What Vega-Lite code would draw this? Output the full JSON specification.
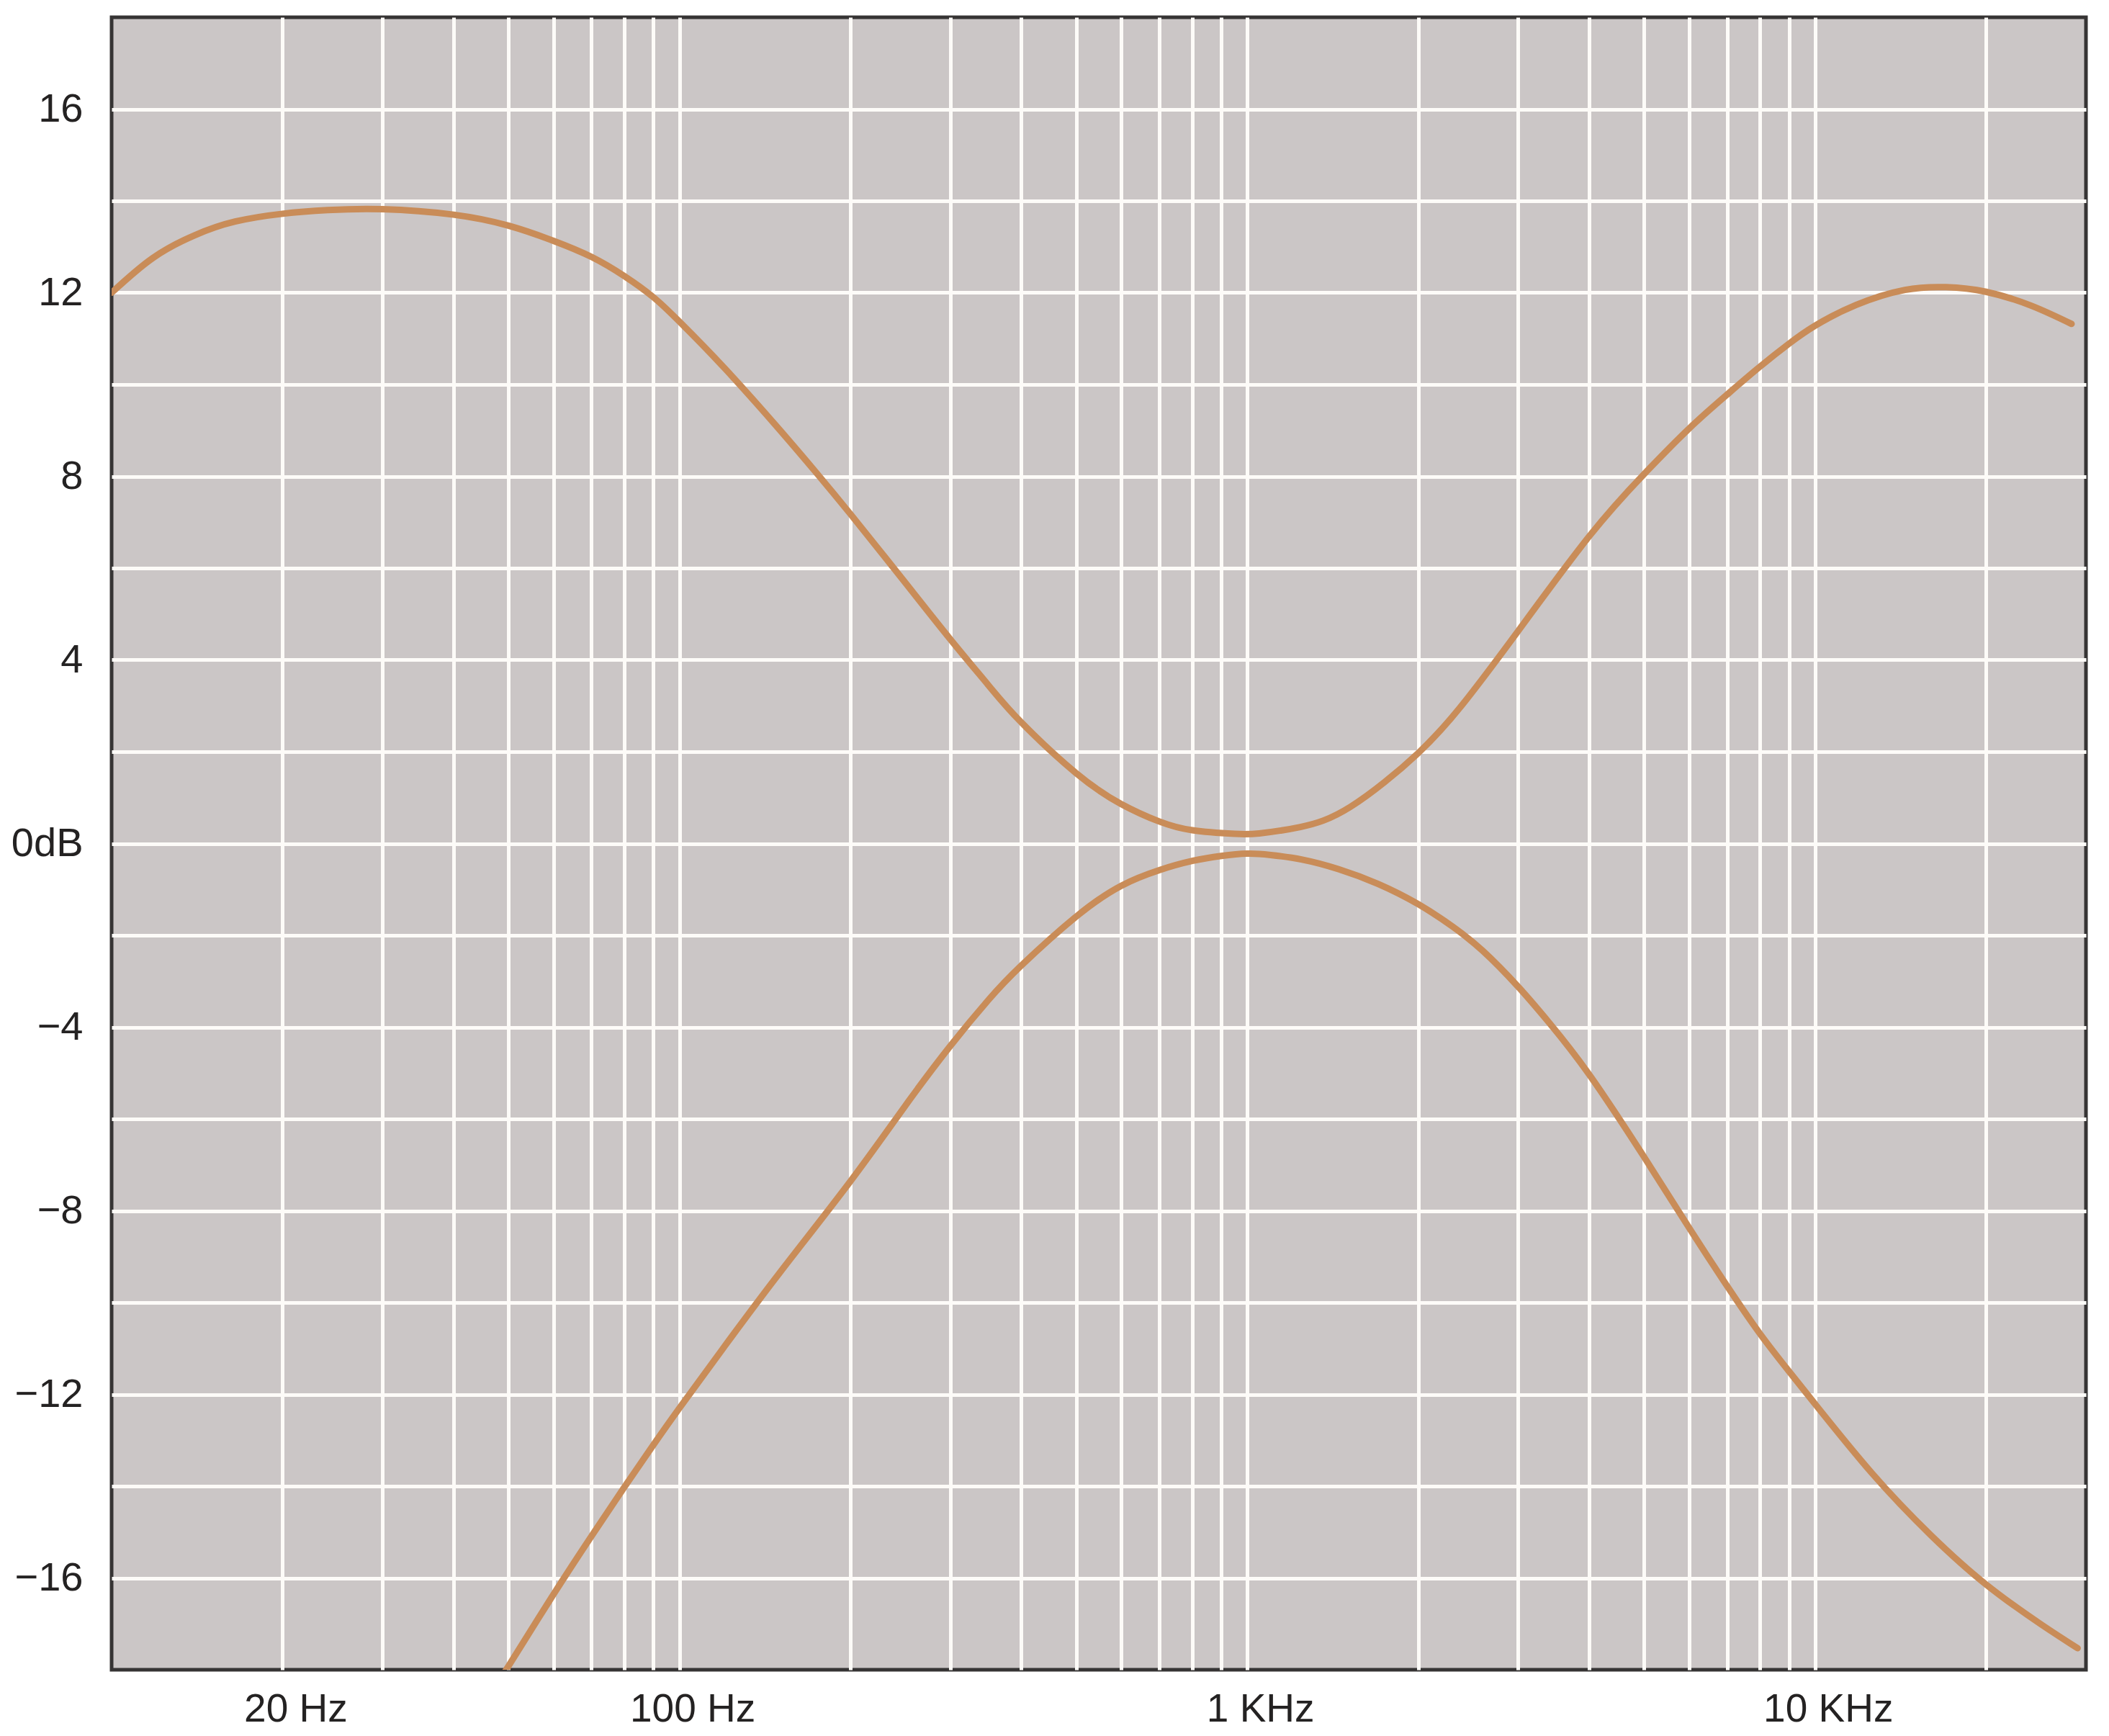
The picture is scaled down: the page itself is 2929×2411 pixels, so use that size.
{
  "$schema": "https://vega.github.io/schema/vega-lite/v6.json",
  "autosize": {"type": "none"},
  "padding": {"left": 155, "top": 24, "right": 32, "bottom": 92},
  "width": 2742,
  "height": 2295,
  "background": "#ffffff",
  "config": {
    "view": {"fill": "#cbc6c6", "stroke": "#363434", "strokeWidth": 5},
    "axis": {"domain": false, "ticks": false, "gridColor": "#fdfbf8", "gridWidth": 5, "gridOpacity": 1, "labelColor": "#242222", "labelLimit": 600, "title": null}
  },
  "data": {
    "values": [
      {"curve": "boost", "f": 10, "db": 12.0},
      {"curve": "boost", "f": 11.8, "db": 12.75},
      {"curve": "boost", "f": 14, "db": 13.25},
      {"curve": "boost", "f": 16.5, "db": 13.55},
      {"curve": "boost", "f": 20, "db": 13.72},
      {"curve": "boost", "f": 24, "db": 13.8},
      {"curve": "boost", "f": 30, "db": 13.82},
      {"curve": "boost", "f": 40, "db": 13.7},
      {"curve": "boost", "f": 50, "db": 13.46},
      {"curve": "boost", "f": 60, "db": 13.13},
      {"curve": "boost", "f": 70, "db": 12.78},
      {"curve": "boost", "f": 80, "db": 12.36},
      {"curve": "boost", "f": 90, "db": 11.9},
      {"curve": "boost", "f": 100, "db": 11.37},
      {"curve": "boost", "f": 120, "db": 10.36},
      {"curve": "boost", "f": 150, "db": 9.02},
      {"curve": "boost", "f": 175, "db": 8.05},
      {"curve": "boost", "f": 200, "db": 7.18},
      {"curve": "boost", "f": 250, "db": 5.68},
      {"curve": "boost", "f": 300, "db": 4.45},
      {"curve": "boost", "f": 350, "db": 3.45},
      {"curve": "boost", "f": 400, "db": 2.64},
      {"curve": "boost", "f": 500, "db": 1.53},
      {"curve": "boost", "f": 600, "db": 0.86},
      {"curve": "boost", "f": 700, "db": 0.48},
      {"curve": "boost", "f": 800, "db": 0.29},
      {"curve": "boost", "f": 950, "db": 0.21},
      {"curve": "boost", "f": 1050, "db": 0.22},
      {"curve": "boost", "f": 1240, "db": 0.36},
      {"curve": "boost", "f": 1520, "db": 0.8},
      {"curve": "boost", "f": 2000, "db": 1.97},
      {"curve": "boost", "f": 2430, "db": 3.13},
      {"curve": "boost", "f": 3000, "db": 4.63},
      {"curve": "boost", "f": 4000, "db": 6.69},
      {"curve": "boost", "f": 5000, "db": 8.05},
      {"curve": "boost", "f": 6000, "db": 9.04},
      {"curve": "boost", "f": 7000, "db": 9.78},
      {"curve": "boost", "f": 8000, "db": 10.39},
      {"curve": "boost", "f": 9000, "db": 10.89},
      {"curve": "boost", "f": 10000, "db": 11.28},
      {"curve": "boost", "f": 11800, "db": 11.73},
      {"curve": "boost", "f": 14400, "db": 12.06},
      {"curve": "boost", "f": 17000, "db": 12.12},
      {"curve": "boost", "f": 20000, "db": 12.02},
      {"curve": "boost", "f": 24000, "db": 11.72},
      {"curve": "boost", "f": 28300, "db": 11.32},
      {"curve": "cut", "f": 48, "db": -18.25},
      {"curve": "cut", "f": 50, "db": -17.92},
      {"curve": "cut", "f": 60, "db": -16.36},
      {"curve": "cut", "f": 70, "db": -15.09},
      {"curve": "cut", "f": 80, "db": -14.02},
      {"curve": "cut", "f": 90, "db": -13.1},
      {"curve": "cut", "f": 100, "db": -12.3},
      {"curve": "cut", "f": 120, "db": -10.96},
      {"curve": "cut", "f": 150, "db": -9.36},
      {"curve": "cut", "f": 200, "db": -7.36},
      {"curve": "cut", "f": 250, "db": -5.71},
      {"curve": "cut", "f": 300, "db": -4.41},
      {"curve": "cut", "f": 350, "db": -3.41},
      {"curve": "cut", "f": 400, "db": -2.66},
      {"curve": "cut", "f": 500, "db": -1.59},
      {"curve": "cut", "f": 600, "db": -0.92},
      {"curve": "cut", "f": 700, "db": -0.58},
      {"curve": "cut", "f": 800, "db": -0.38},
      {"curve": "cut", "f": 900, "db": -0.27},
      {"curve": "cut", "f": 1000, "db": -0.22},
      {"curve": "cut", "f": 1100, "db": -0.25},
      {"curve": "cut", "f": 1250, "db": -0.35},
      {"curve": "cut", "f": 1450, "db": -0.56},
      {"curve": "cut", "f": 1700, "db": -0.88},
      {"curve": "cut", "f": 2000, "db": -1.32},
      {"curve": "cut", "f": 2300, "db": -1.81},
      {"curve": "cut", "f": 2600, "db": -2.34},
      {"curve": "cut", "f": 3000, "db": -3.12},
      {"curve": "cut", "f": 3400, "db": -3.9},
      {"curve": "cut", "f": 4000, "db": -5.03},
      {"curve": "cut", "f": 5000, "db": -6.83},
      {"curve": "cut", "f": 6000, "db": -8.37},
      {"curve": "cut", "f": 7000, "db": -9.64},
      {"curve": "cut", "f": 8000, "db": -10.68},
      {"curve": "cut", "f": 9000, "db": -11.5},
      {"curve": "cut", "f": 10000, "db": -12.21},
      {"curve": "cut", "f": 12600, "db": -13.72},
      {"curve": "cut", "f": 16000, "db": -15.07},
      {"curve": "cut", "f": 20000, "db": -16.14},
      {"curve": "cut", "f": 25000, "db": -17.01},
      {"curve": "cut", "f": 29000, "db": -17.53}
    ]
  },
  "mark": {"type": "line", "color": "#c98c58", "strokeWidth": 9, "interpolate": "natural", "clip": true, "strokeCap": "round"},
  "encoding": {
    "detail": {"field": "curve", "type": "nominal"},
    "x": {
      "field": "f",
      "type": "quantitative",
      "scale": {"type": "log", "domain": [10, 30000], "nice": false},
      "axis": {
        "values": [20, 30, 40, 50, 60, 70, 80, 90, 100, 200, 300, 400, 500, 600, 700, 800, 900, 1000, 2000, 3000, 4000, 5000, 6000, 7000, 8000, 9000, 10000, 20000],
        "labelExpr": "datum.value == 20 ? '20 Hz' : datum.value == 100 ? '100 Hz' : datum.value == 1000 ? '1 KHz' : datum.value == 10000 ? '10 KHz' : ''",
        "labelFont": "Liberation Sans, Arial, sans-serif",
        "labelFontSize": 55,
        "labelPadding": 28,
        "labelOffset": 18,
        "labelLimit": 600,
        "labelOverlap": false,
        "labelFlush": false
      }
    },
    "y": {
      "field": "db",
      "type": "quantitative",
      "scale": {"domain": [-18, 18], "nice": false, "zero": false},
      "axis": {
        "values": [-16, -14, -12, -10, -8, -6, -4, -2, 0, 2, 4, 6, 8, 10, 12, 14, 16],
        "labelExpr": "datum.value % 4 != 0 ? '' : datum.value == 0 ? '0dB' : datum.value < 0 ? '\u2212' + (-datum.value) : '' + datum.value",
        "labelFont": "Liberation Sans, Arial, sans-serif",
        "labelFontSize": 56,
        "labelPadding": 40,
        "labelLimit": 600,
        "labelOverlap": false,
        "labelFlush": false
      }
    }
  }
}
